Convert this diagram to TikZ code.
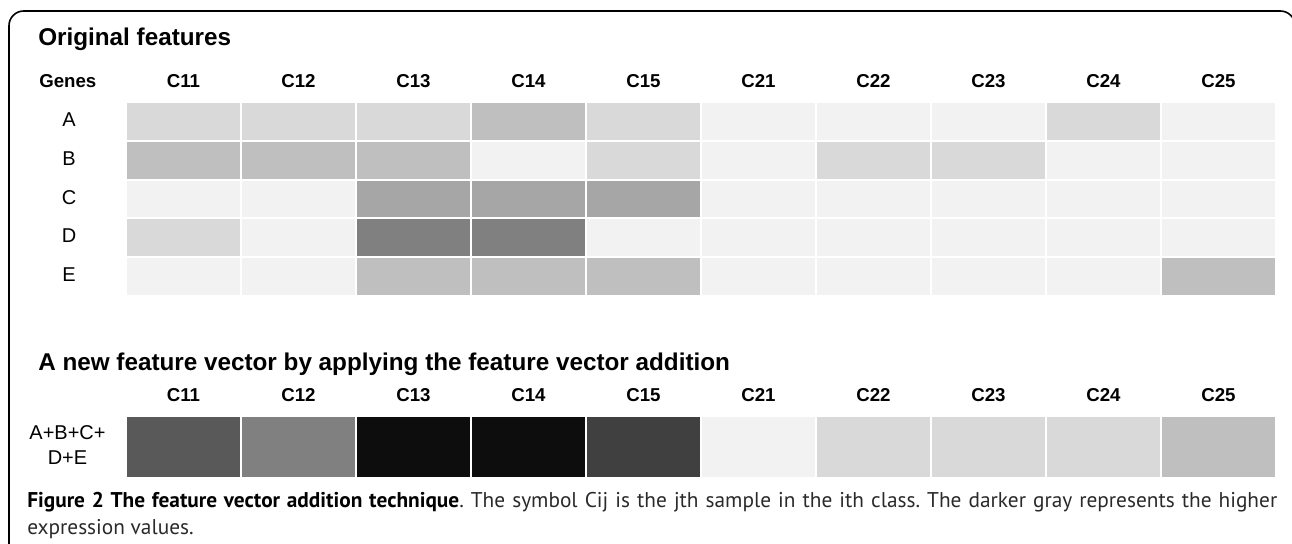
\documentclass[tikz,border=0pt]{standalone}
\usepackage{fontspec}
\setmainfont{Liberation Sans}
\newfontfamily\capfont{PT Sans}
\begin{document}
\begin{tikzpicture}[x=0.75pt,y=-0.75pt,
  hdr/.style={font=\bfseries\fontsize{14}{16}\selectfont, inner sep=0, anchor=base},
  lbl/.style={font=\fontsize{15}{17}\selectfont, inner sep=0, anchor=base},
  ttl/.style={font=\bfseries\fontsize{18.2}{21}\selectfont, inner sep=0, anchor=base west},
  frame/.style={line width=1.2pt, rounded corners=11pt},
]
\useasboundingbox (0,0) rectangle (1292,543);
\clip (0,0) rectangle (1292,543);
\definecolor{lv1}{HTML}{F2F2F2}
\definecolor{lv2}{HTML}{D9D9D9}
\definecolor{lv3}{HTML}{BFBFBF}
\definecolor{lv4}{HTML}{A6A6A6}
\definecolor{lv5}{HTML}{808080}
\definecolor{captxt}{HTML}{2A2A2A}

% outer frame, open at the bottom
\draw[frame] (9,560) -- (9,11) -- (1295,11) -- (1295,560);

% ---- original features ----
\node[ttl] (title1) at (38,45) {Original features};
\node[hdr, anchor=base west] (genes) at (39,87) {Genes};
\foreach \n [count=\c from 0] in {11,12,13,14,15,21,22,23,24,25}
  \node[hdr] (top\n) at (183.5+115*\c,87) {C\n};
\foreach \n [count=\r from 0] in {A,B,C,D,E}
  \node[lbl] (row\n) at (69,121.4+38.8*\r+5) {\n};

\foreach \row [count=\r from 0] in {
  {2,2,2,3,2,1,1,1,2,1},
  {3,3,3,1,2,1,2,2,1,1},
  {1,1,4,4,4,1,1,1,1,1},
  {2,1,5,5,1,1,1,1,1,1},
  {1,1,3,3,3,1,1,1,1,3}}
  \foreach \v [count=\c from 0] in \row
    \fill[lv\v] (126+115*\c+1,102+38.8*\r+1) rectangle (126+115*\c+114,102+38.8*\r+37.8);

% ---- summed feature vector ----
\node[ttl] (title2) at (38,370) {A new feature vector by applying the feature vector addition};
\foreach \n [count=\c from 0] in {11,12,13,14,15,21,22,23,24,25}
  \node[hdr] (bot\n) at (183.5+115*\c,401) {C\n};
\node[lbl] (sum1) at (67.5,439) {A+B+C+};
\node[lbl] (sum2) at (67.5,464) {D+E};
\foreach \v [count=\c from 0] in {595959,808080,0D0D0D,0D0D0D,404040,F2F2F2,D9D9D9,D9D9D9,D9D9D9,BFBFBF} {
  \definecolor{cc}{HTML}{\v}
  \fill[cc] (126+115*\c+1,417) rectangle (126+115*\c+114,477);
}

% ---- caption ----
\node[inner sep=0, anchor=base west, text width=937.5pt, align=justify,
      text=captxt, font=\capfont\fontsize{16}{20.25}\selectfont\frenchspacing] (caption) at (27,507)
  {\textbf{\color{black}Figure 2 The feature vector addition technique}. The symbol Cij is the jth sample in the ith class. The darker gray represents the higher\linebreak expression values.};
\end{tikzpicture}
\end{document}
